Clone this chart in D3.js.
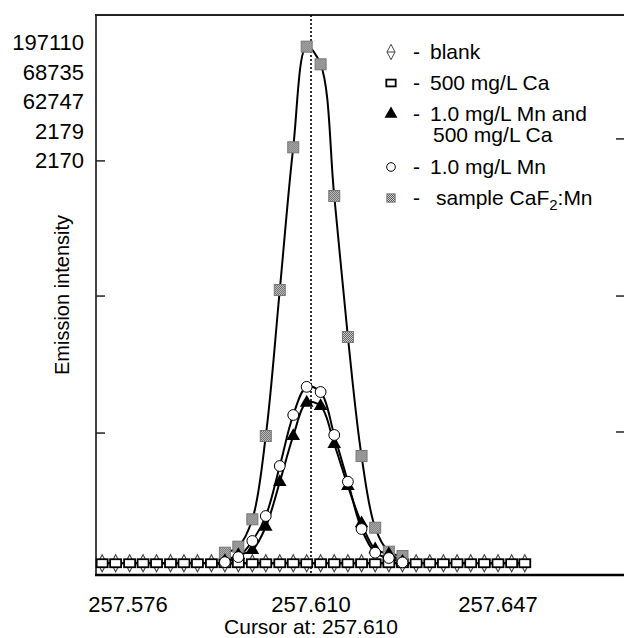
<!DOCTYPE html>
<html>
<head>
<meta charset="utf-8">
<script src="https://cdn.jsdelivr.net/npm/d3@7"></script>
<style>
  body { margin: 0; background: #fff; }
  svg { display: block; font-family: "Liberation Sans", Arial, Helvetica, sans-serif; }
</style>
</head>
<body>
<div class="svg-container"></div>
<script>
    // wavelength grid (nm) of the scan
    const wavelengths = [257.5712, 257.5737, 257.5763, 257.5788, 257.5813, 257.5839, 257.5864, 257.5889,
                         257.5915, 257.5940, 257.5965, 257.5991, 257.6016, 257.6042, 257.6067, 257.6092,
                         257.6119, 257.6146, 257.6173, 257.6200, 257.6227, 257.6254, 257.6281, 257.6308,
                         257.6335, 257.6362, 257.6389, 257.6416, 257.6443, 257.6470, 257.6497, 257.6523];

    const blank_vals = [2170, 2168, 2170, 2166, 2169, 2170, 2167, 2170, 2168, 2170, 2169, 2166, 2170, 2168, 2170, 2169,
                        2170, 2167, 2170, 2168, 2169, 2170, 2166, 2170, 2168, 2170, 2169, 2167, 2170, 2168, 2170, 2169];
    const ca_vals = [2179, 2176, 2178, 2175, 2179, 2177, 2176, 2179, 2178, 2175, 2179, 2177, 2176, 2178, 2179, 2176,
                     2179, 2177, 2175, 2178, 2179, 2176, 2177, 2179, 2178, 2175, 2179, 2177, 2176, 2178, 2179, 2177];
    // null = outside the recorded window of the peak scans
    const mnca_vals = [null, null, null, null, null, null, null, null, null, 3000, 5280, 7170, 15960, 32830, 50190, 62747,
                       61500, 47170, 31320, 17250, 7430, 5660, 2700, null, null, null, null, null, null, null, null, null];
    const mn_vals = [null, null, null, null, null, null, null, null, null, 2600, 4500, 10570, 20000, 38870, 58110, 68735,
                     66790, 50570, 32940, 15090, 6150, 4150, 2500, null, null, null, null, null, null, null, null, null];
    const sample_vals = [null, null, null, null, null, null, null, null, null, 6150, 8415, 18755, 50190, 105280, 159130, 197110,
                         190450, 140750, 87550, 42640, 15590, 6530, 4900, null, null, null, null, null, null, null, null, null];

    const peak_labels = ["197110", "68735", "62747", "2179", "2170"];
    const x_ticks = [257.576, 257.610, 257.647];
    const cursor_at = 257.610;
    const left_ticks = [51300, 103000, 154000];
    const right_ticks = [51700, 103000, 162300];
    const legend_items = [
        {key: "blank", lines: ["blank"]},
        {key: "ca", lines: ["500 mg/L Ca"]},
        {key: "mnca", lines: ["1.0 mg/L Mn and", "500 mg/L Ca"]},
        {key: "mn", lines: ["1.0 mg/L Mn"]},
        {key: "sample", lines: ["sample CaF", "2", ":Mn"]}
    ];

    const width = 624, height = 638;
    const plot_left = 96, plot_top = 15, plot_bottom = 575;

    const svg = d3.select('.svg-container').append('svg')
        .attr('width', width).attr('height', height);

    const defs = svg.append('defs');
    const pat = defs.append('pattern').attr('id', 'stipple')
        .attr('width', 2).attr('height', 2).attr('patternUnits', 'userSpaceOnUse');
    pat.append('rect').attr('width', 2).attr('height', 2).attr('fill', '#d8d8d8');
    pat.append('rect').attr('width', 1).attr('height', 1).attr('fill', '#555');
    pat.append('rect').attr('x', 1).attr('y', 1).attr('width', 1).attr('height', 1).attr('fill', '#555');

    const x = d3.scaleLinear().domain(x_ticks).range([128, 311, 498]);
    const y = d3.scaleLinear().domain([0, 200000]).range([569, 39]);

    // frame
    svg.append('line').attr('x1', plot_left).attr('x2', plot_left).attr('y1', plot_top).attr('y2', plot_bottom)
        .attr('stroke', '#444').attr('stroke-width', 2);
    svg.append('line').attr('x1', plot_left - 1).attr('x2', width).attr('y1', plot_top).attr('y2', plot_top)
        .attr('stroke', '#222').attr('stroke-width', 2);
    svg.append('line').attr('x1', plot_left - 1).attr('x2', width).attr('y1', plot_bottom).attr('y2', plot_bottom)
        .attr('stroke', '#000').attr('stroke-width', 2.5);

    // inner ticks
    svg.append('g').selectAll('line').data(left_ticks).enter().append('line')
        .attr('x1', plot_left).attr('x2', plot_left + 9)
        .attr('y1', d => y(d)).attr('y2', d => y(d))
        .attr('stroke', '#222').attr('stroke-width', 1.5);
    svg.append('g').selectAll('line').data(right_ticks).enter().append('line')
        .attr('x1', width - 8).attr('x2', width)
        .attr('y1', d => y(d)).attr('y2', d => y(d))
        .attr('stroke', '#222').attr('stroke-width', 1.5);

    // peak value labels
    svg.append('g').selectAll('text').data(peak_labels).enter().append('text')
        .attr('x', 84).attr('y', (d, i) => 50 + i * 29.5)
        .attr('text-anchor', 'end').attr('font-size', 22)
        .text(d => d);

    // x labels
    svg.append('g').selectAll('text').data(x_ticks).enter().append('text')
        .attr('x', d => x(d)).attr('y', 612)
        .attr('text-anchor', 'middle').attr('font-size', 22)
        .text(d => d.toFixed(3));
    svg.append('text').attr('x', x(cursor_at)).attr('y', 634)
        .attr('text-anchor', 'middle').attr('font-size', 21)
        .text('Cursor at: ' + cursor_at.toFixed(3));

    svg.append('text').attr('transform', 'translate(69,295) rotate(-90)')
        .attr('text-anchor', 'middle').attr('font-size', 20)
        .text('Emission intensity');

    // cursor line
    svg.append('line').attr('x1', x(cursor_at)).attr('x2', x(cursor_at))
        .attr('y1', plot_top).attr('y2', plot_bottom)
        .attr('stroke', '#000').attr('stroke-width', 1.6).attr('stroke-dasharray', '2,2');

    const pts = vals => vals.map((v, i) => ({w: wavelengths[i], v: v}));
    const peak_line = d3.line().defined(d => d.v !== null)
        .x(d => x(d.w)).y(d => y(d.v)).curve(d3.curveCatmullRom.alpha(0.5));
    const base_line = d3.line().x(d => x(d.w)).y(d => y(d.v));

    const g_lines = svg.append('g').attr('fill', 'none').attr('stroke', '#000').attr('stroke-width', 2);
    [sample_vals, mn_vals, mnca_vals].forEach(vals => {
        g_lines.append('path').attr('d', peak_line(pts(vals)));
    });
    g_lines.append('path').attr('d', base_line(pts(blank_vals)));
    g_lines.append('path').attr('d', base_line(pts(ca_vals)));

    // marker painters
    const diamond = 'M0,-8.5L4.5,0L0,8.5L-4.5,0Z';
    function draw_marker(sel, key, scale) {
        if (key === 'blank') {
            sel.append('path').attr('d', diamond).attr('transform', 'scale(' + scale + ')')
                .attr('fill', '#fff').attr('stroke', '#444').attr('stroke-width', 1.1);
            sel.append('line').attr('x1', -4.5 * scale).attr('x2', 4.5 * scale)
                .attr('stroke', '#444').attr('stroke-width', 1);
        } else if (key === 'ca') {
            sel.append('rect').attr('x', -5.5 * scale).attr('y', -4 * scale)
                .attr('width', 11 * scale).attr('height', 8 * scale)
                .attr('fill', '#fff').attr('stroke', '#000').attr('stroke-width', 1.8);
        } else if (key === 'mnca') {
            sel.append('path').attr('d', d3.symbol(d3.symbolTriangle, 80 * scale * scale)())
                .attr('fill', '#000');
        } else if (key === 'mn') {
            sel.append('circle').attr('r', 5.4 * scale)
                .attr('fill', '#fff').attr('stroke', '#000').attr('stroke-width', 1);
        } else {
            sel.append('rect').attr('x', -5.5 * scale).attr('y', -5.5 * scale)
                .attr('width', 11 * scale).attr('height', 11 * scale)
                .attr('fill', 'url(#stipple)').attr('stroke', '#777').attr('stroke-width', 1);
        }
    }

    function draw_points(vals, key) {
        const g = svg.append('g');
        g.selectAll('g').data(pts(vals).filter(d => d.v !== null)).enter().append('g')
            .attr('transform', d => 'translate(' + x(d.w) + ',' + y(d.v) + ')')
            .each(function () { draw_marker(d3.select(this), key, 1); });
    }
    draw_points(blank_vals, 'blank');
    draw_points(ca_vals, 'ca');
    draw_points(sample_vals, 'sample');
    draw_points(mnca_vals, 'mnca');
    draw_points(mn_vals, 'mn');

    // legend
    const legend_y = [52, 83, 114, 167, 198];
    const legend_scale = {blank: 0.9, ca: 0.85, mnca: 0.95, mn: 0.8, sample: 0.75};
    const g_legend = svg.append('g');
    legend_items.forEach((item, i) => {
        const row = g_legend.append('g').attr('transform', 'translate(391,' + legend_y[i] + ')');
        draw_marker(row.append('g'), item.key, legend_scale[item.key]);
        row.append('text').attr('x', 22).attr('y', 7).attr('font-size', 21).text('-');
        if (item.key === 'sample') {
            const t = row.append('text').attr('x', 45).attr('y', 7).attr('font-size', 21);
            t.append('tspan').text(item.lines[0]);
            t.append('tspan').attr('font-size', 15).attr('dy', 5).text(item.lines[1]);
            t.append('tspan').attr('dy', -5).text(item.lines[2]);
        } else {
            item.lines.forEach((ln, j) => {
                row.append('text').attr('x', j === 0 ? 39 : 42).attr('y', 7 + j * 21)
                    .attr('font-size', 21).text(ln);
            });
        }
    });
</script>
</body>
</html>
